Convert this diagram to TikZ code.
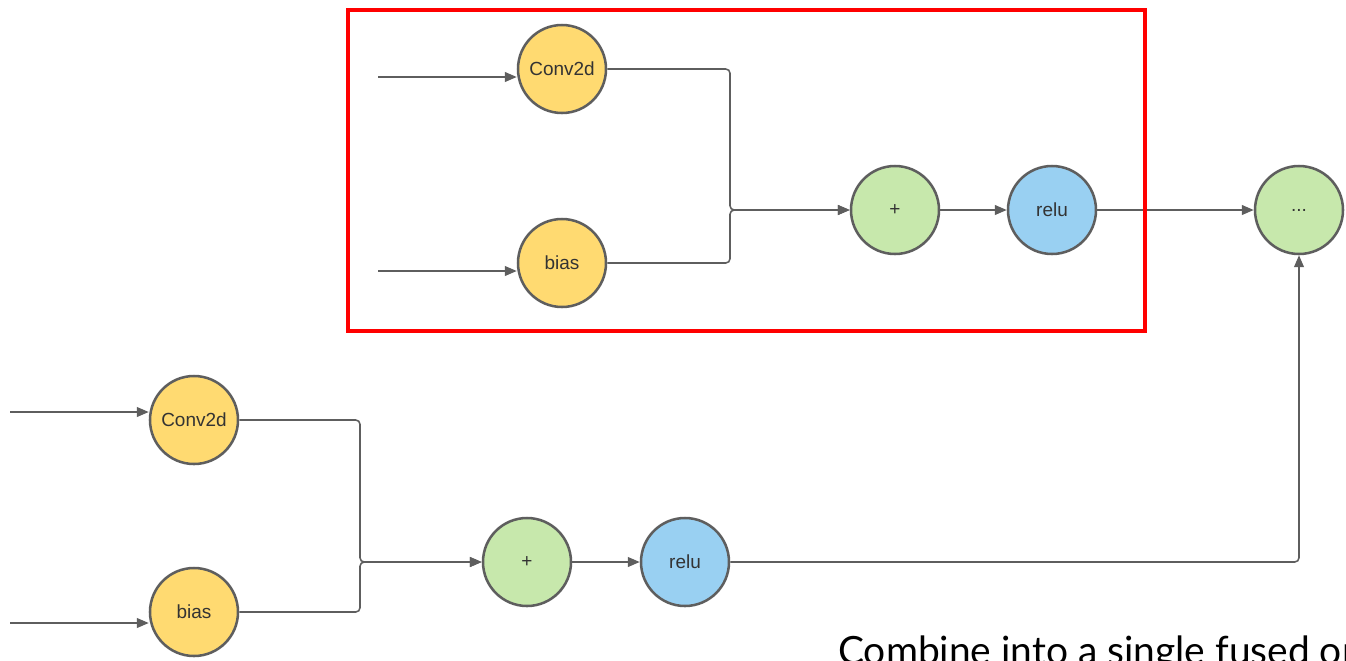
\documentclass[tikz,border=0pt]{standalone}
\usepackage{fontspec}
\setmainfont{Liberation Sans}
\newfontfamily\notefont{Lato}
\usepackage{tikz}
\usetikzlibrary{arrows.meta}
\pgfdeclarelayer{bg}
\pgfsetlayers{bg,main}

\definecolor{opyellow}{HTML}{FFDA71}
\definecolor{opgreen}{HTML}{C7E8AC}
\definecolor{opblue}{HTML}{99D0F2}
\definecolor{opgray}{HTML}{5E5E5E}
\definecolor{fusered}{HTML}{FF0000}

\tikzset{
  op/.style={circle, draw=opgray, line width=1.8pt, minimum size=2.2cm, inner sep=0pt,
    text=black!80, font=\fontsize{13.5}{16}\selectfont},
  wire/.style={draw=opgray, line width=1.1pt, rounded corners=3pt,
    -{Triangle[length=8.5pt,width=7pt]}},
}

\begin{document}
\begin{tikzpicture}
        \useasboundingbox (0cm, 0cm) rectangle (33.650000cm, -16.500000cm);
        \clip (0cm, 0cm) rectangle (33.650000cm, -16.500000cm);
        % fused part
        \node (box) [draw=fusered, line width=2.85pt, minimum width=19.925000cm, minimum height=8.025000cm, inner sep=0pt] at (18.662500cm, -4.262500cm) {};
        \node (tconv) [op, fill=opyellow] at (14.050000cm, -1.725000cm) {Conv2d};
        \node (tbias) [op, fill=opyellow] at (14.050000cm, -6.575000cm) {bias};
        \node (tplus) [op, fill=opgreen] at (22.375000cm, -5.250000cm) {+};
        \node (trelu) [op, fill=opblue] at (26.300000cm, -5.250000cm) {relu};
        \node (dots) [op, fill=opgreen] at (32.475000cm, -5.250000cm) {...};
        % unfused part
        \node (bconv) [op, fill=opyellow] at (4.850000cm, -10.500000cm) {Conv2d};
        \node (bbias) [op, fill=opyellow] at (4.850000cm, -15.300000cm) {bias};
        \node (bplus) [op, fill=opgreen] at (13.175000cm, -14.050000cm) {+};
        \node (brelu) [op, fill=opblue] at (17.125000cm, -14.050000cm) {relu};
        \node (note) [anchor=base west, inner sep=0pt, font=\notefont\fontsize{27.7}{32}\selectfont] at (20.950000cm, -16.600000cm) {Combine into a single fused op};
        \coordinate (tin1) at (9.450000cm, -1.925000cm);
        \coordinate (tin2) at (9.450000cm, -6.775000cm);
        \coordinate (bin1) at (0.250000cm, -10.300000cm);
        \coordinate (bin2) at (0.250000cm, -15.575000cm);
        \coordinate (tbus) at (18.250000cm, -5.250000cm);
        \coordinate (bbus) at (9.000000cm, -14.050000cm);
        \begin{pgfonlayer}{bg}
                \draw [wire] (tin1) -- (tin1 -| tconv.west);
                \draw [wire] (tin2) -- (tin2 -| tbias.west);
                \draw [wire] (tconv.east) -| (tbus) -- (tplus);
                \draw [wire] (tbias.east) -| (tbus) -- (tplus);
                \draw [wire] (tplus) -- (trelu);
                \draw [wire] (trelu) -- (dots);
                \draw [wire] (bin1) -- (bin1 -| bconv.west);
                \draw [wire] (bin2) -- (bin2 -| bbias.west);
                \draw [wire] (bconv.east) -| (bbus) -- (bplus);
                \draw [wire] (bbias.east) -| (bbus) -- (bplus);
                \draw [wire] (bplus) -- (brelu);
                \draw [wire] (brelu) -| (dots);
        \end{pgfonlayer}
\end{tikzpicture}
\end{document}
